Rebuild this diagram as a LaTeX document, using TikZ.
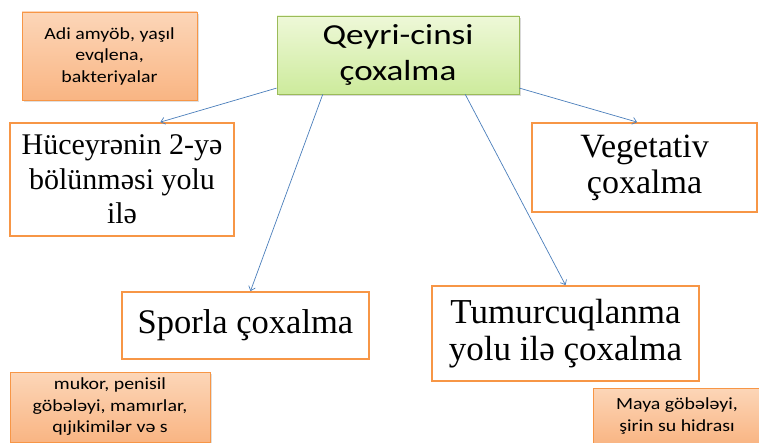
\documentclass[tikz,border=0pt]{standalone}
\usepackage{fontspec}
\newfontfamily\calfont[FakeStretch=1.17]{Carlito}
\newfontfamily\rootfont[FakeStretch=1.21]{Carlito}
\newfontfamily\tnrfont{Liberation Serif}
\usetikzlibrary{arrows.meta,calc,shadows}
\definecolor{orangeedge}{HTML}{F79646}
\definecolor{orangetop}{HTML}{FCD6B8}
\definecolor{orangebot}{HTML}{F9B583}
\definecolor{greenedge}{HTML}{9BBB59}
\definecolor{greentop}{HTML}{EEF8D8}
\definecolor{greenbot}{HTML}{CDEB9C}
\definecolor{arrowblue}{HTML}{4A7EBB}
\tikzset{
  notebox/.style={rectangle, draw=orangeedge, line width=0.8pt, top color=orangetop, bottom color=orangebot,
    inner sep=0pt, align=center, font=\calfont\fontsize{17}{21.5}\selectfont,
    drop shadow={shadow xshift=1.5pt, shadow yshift=-2pt, opacity=0.25}},
  mainbox/.style={rectangle, draw=orangeedge, line width=1.8pt, fill=white, inner sep=0pt, align=center},
  rootbox/.style={rectangle, draw=greenedge, line width=0.8pt, top color=greentop, bottom color=greenbot,
    inner sep=0pt, align=center, font=\rootfont\fontsize{29}{36}\selectfont,
    drop shadow={shadow xshift=1.5pt, shadow yshift=-2.5pt, opacity=0.3}},
  link/.style={draw=arrowblue, line width=0.7pt, -{Straight Barb[length=4pt,width=7pt]}}
}
\begin{document}
\begin{tikzpicture}[x=1pt,y=-1pt]
\useasboundingbox (0,0) rectangle (759,443);
\node[notebox, minimum width=175pt, minimum height=88pt] (n1) at (109.5,56) {Adi amyöb, yaşıl\\evqlena,\\bakteriyalar};
\node[rootbox, minimum width=242pt, minimum height=78pt] (g) at (398,55) {Qeyri-cinsi\\çoxalma};
\node[mainbox, minimum width=224pt, minimum height=113pt, font=\tnrfont\fontsize{30}{34.5}\selectfont] (hc) at (122,179.5) {Hüceyrənin 2-yə\\bölünməsi yolu\\ilə};
\node[mainbox, minimum width=225pt, minimum height=89pt, font=\tnrfont\fontsize{34}{36}\selectfont] (vg) at (644.5,167.5) {Vegetativ\\çoxalma};
\node[mainbox, minimum width=247pt, minimum height=67pt, font=\tnrfont\fontsize{34.5}{38}\selectfont] (sp) at (245.5,325.5) {Sporla çoxalma};
\node[mainbox, minimum width=267pt, minimum height=95pt, font=\tnrfont\fontsize{35}{37}\selectfont] (tm) at (565.5,333.5) {Tumurcuqlanma\\yolu ilə çoxalma};
\node[notebox, minimum width=200pt, minimum height=70pt] (n2) at (110,407) {mukor, penisil\\göbələyi, mamırlar,\\qıjıkimilər və s};
\node[notebox, minimum width=168pt, minimum height=56pt] (n3) at (677,416) {Maya göbələyi,\\şirin su hidrası};
\draw[link] ($(g.south west)!0.08!(g.north west)$) -- ($(hc.north west)!0.67!(hc.north east)$);
\draw[link] ($(g.south west)!0.19!(g.south east)$) -- ($(sp.north west)!0.52!(sp.north east)$);
\draw[link] ($(g.south west)!0.777!(g.south east)$) -- (tm.north);
\draw[link] ($(g.south east)!0.08!(g.north east)$) -- ($(vg.north west)!0.467!(vg.north east)$);
\end{tikzpicture}
\end{document}
